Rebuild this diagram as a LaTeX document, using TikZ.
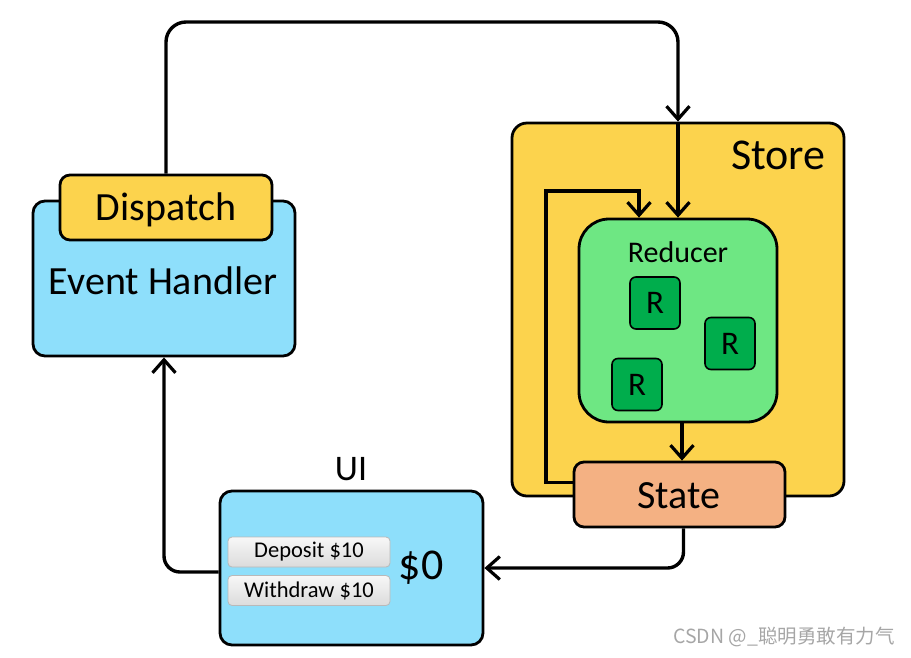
\documentclass[tikz,border=0pt]{standalone}
\usepackage{fontspec}
\setmainfont{Carlito}
\newfontfamily\cjk{Noto Sans CJK SC}
\usetikzlibrary{arrows.meta}
\definecolor{ehblue}{RGB}{142,223,251}
\definecolor{dispyellow}{RGB}{252,211,77}
\definecolor{storeyellow}{RGB}{252,211,77}
\definecolor{redgreen}{RGB}{110,231,131}
\definecolor{rgreen}{RGB}{0,173,76}
\definecolor{statesalmon}{RGB}{244,177,131}
\tikzset{
  box/.style={draw=black, line width=2.8pt, inner sep=0pt},
  arr/.style={draw=black, line width=3.4pt, -{Straight Barb[length=13pt,width=23pt,line width=3.2pt]}},
  rbox/.style={box, line width=1.6pt, fill=rgreen, rounded corners=6pt, minimum width=50pt, minimum height=52pt, font=\fontsize{33}{38}\selectfont},
  btn/.style={draw=gray!55, line width=0.8pt, top color=gray!6, bottom color=gray!28, rounded corners=4pt, minimum width=162pt, minimum height=30pt, inner sep=0pt, font=\fontsize{22.5}{26}\selectfont},
}
\begin{document}
\begin{tikzpicture}[x=1pt,y=-1pt]
\useasboundingbox (0,0) rectangle (911,657);
% Event handler + dispatch
\node[box, fill=ehblue, rounded corners=12pt, minimum width=262pt, minimum height=155pt] (eh) at (164,278.5) {};
\node[font=\fontsize{40}{48}\selectfont] (ehtext) at (163,281) {Event Handler};
\node[box, fill=dispyellow, rounded corners=10pt, minimum width=212pt, minimum height=65pt, font=\fontsize{40}{48}\selectfont] (disp) at (166,207.5) {};
\node[font=\fontsize{40}{48}\selectfont] (disptext) at (166,209.5) {Dispatch};
% Store
\node[box, fill=storeyellow, rounded corners=15pt, minimum width=332pt, minimum height=373pt] (store) at (678,309.5) {};
\node[anchor=east, font=\fontsize{44}{52}\selectfont] (storetext) at (829,155) {Store};
\node[box, fill=redgreen, rounded corners=30pt, minimum width=198pt, minimum height=203pt] (red) at (678,320.5) {};
\node[font=\fontsize{30}{36}\selectfont] (redtext) at (678,252) {Reducer};
\node[rbox] (r1) at (655,303) {R};
\node[rbox] (r2) at (730,343.5) {R};
\node[rbox] (r3) at (637,384.5) {R};
% loop inside store
\draw[arr] ([yshift=12pt]574,494.5) -| (546,191) -| ([xshift=-39pt]red.north);
\node[box, fill=statesalmon, rounded corners=10pt, minimum width=211pt, minimum height=65pt] (state) at (679.5,494.5) {};
\node[font=\fontsize{40}{48}\selectfont] (statetext) at (679,496) {State};
\draw[arr] (store.north) -- (red.north);
\draw[arr] ([xshift=4pt]red.south) -- ([xshift=4pt]red.south |- state.north);
% UI
\node[font=\fontsize{36}{42}\selectfont] (uitext) at (351,469) {UI};
\node[box, fill=ehblue, rounded corners=12pt, minimum width=263pt, minimum height=154pt] (ui) at (351.5,568) {};
\node[btn] (dep) at (309,552) {Deposit \$10};
\node[btn] (wd) at (309,590.5) {Withdraw \$10};
\node[font=\fontsize{44}{52}\selectfont] (bal) at (421,568) {\$0};
% connectors
\draw[arr, rounded corners=20pt] (disp.north) -- (disp.north |- 0,22) -- (store.north |- 0,22) -- (store.north);
\draw[arr, rounded corners=16pt] ([xshift=4pt]state.south) |- (ui.east);
\draw[arr, rounded corners=16pt] ([yshift=-4pt]ui.west) -| (eh.south);
% watermark
\node[text=gray!70, font=\cjk\fontsize{19.5}{23}\selectfont] (wm) at (784,637) {CSDN @\_聪明勇敢有力气};
\end{tikzpicture}
\end{document}
